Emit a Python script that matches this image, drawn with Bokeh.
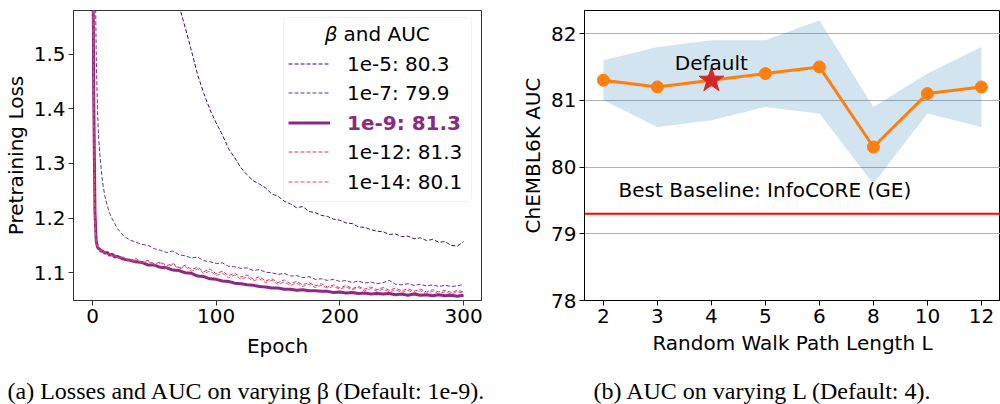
from bokeh.plotting import figure
from bokeh.models import Range1d, FixedTicker, Legend, LegendItem, Label, BoxAnnotation, Span
from bokeh.layouts import row, column
from bokeh.embed import file_html
from bokeh.resources import INLINE

# ---------------- data: (a) pretraining loss vs epoch ----------------
EPOCHS = [0, 1, 2, 3, 4, 5, 6, 7, 8, 10, 12, 14, 16, 18, 20,
          25, 30, 35, 40, 45, 50, 55, 60, 65, 70, 75, 80, 85, 90, 95, 100,
          105, 110, 115, 120, 125, 130, 135, 140, 145, 150, 155, 160, 165, 170, 175, 180,
          185, 190, 195, 200, 205, 210, 215, 220, 225, 230, 235, 240, 245, 250, 255, 260,
          265, 270, 275, 280, 285, 290, 295, 300]

LOSS_1E5 = [3.10, 2.95, 2.85, 2.76, 2.68, 2.62, 2.57, 2.52, 2.48, 2.41, 2.35, 2.30, 2.25, 2.21, 2.17,
            2.08, 2.01, 1.95, 1.90, 1.85, 1.80, 1.74, 1.685, 1.635, 1.588, 1.548, 1.506, 1.462, 1.428, 1.398, 1.374,
            1.352, 1.327, 1.310, 1.292, 1.279, 1.268, 1.262, 1.255, 1.244, 1.240, 1.231, 1.226, 1.219, 1.221, 1.212, 1.210,
            1.205, 1.203, 1.198, 1.196, 1.191, 1.190, 1.184, 1.183, 1.179, 1.176, 1.175, 1.170, 1.171, 1.166, 1.167, 1.162,
            1.164, 1.159, 1.161, 1.156, 1.157, 1.150, 1.149, 1.157]

LOSS_1E7 = [1.90, 1.85, 1.70, 1.50, 1.40, 1.345, 1.315, 1.29, 1.268, 1.240, 1.222, 1.208, 1.198, 1.190, 1.181,
            1.168, 1.160, 1.156, 1.152, 1.150, 1.144, 1.141, 1.137, 1.140, 1.133, 1.131, 1.127, 1.129, 1.122, 1.120, 1.117,
            1.118, 1.112, 1.111, 1.108, 1.109, 1.104, 1.106, 1.101, 1.100, 1.097, 1.099, 1.094, 1.095, 1.091, 1.093, 1.088,
            1.089, 1.086, 1.088, 1.084, 1.086, 1.082, 1.085, 1.081, 1.083, 1.080, 1.082, 1.086, 1.079, 1.078, 1.080, 1.077,
            1.079, 1.076, 1.078, 1.075, 1.077, 1.075, 1.076, 1.079]

LOSS_1E9 = [1.85, 1.42, 1.21, 1.158, 1.147, 1.144, 1.143, 1.139, 1.140, 1.136, 1.137, 1.132, 1.134, 1.129, 1.130,
            1.125, 1.123, 1.120, 1.119, 1.114, 1.114, 1.110, 1.109, 1.105, 1.104, 1.100, 1.099, 1.094, 1.093, 1.089, 1.088,
            1.085, 1.084, 1.081, 1.080, 1.078, 1.077, 1.075, 1.074, 1.072, 1.072, 1.070, 1.070, 1.068, 1.069, 1.067, 1.067,
            1.066, 1.066, 1.064, 1.065, 1.063, 1.064, 1.062, 1.063, 1.061, 1.062, 1.061, 1.062, 1.060, 1.061, 1.059, 1.061,
            1.059, 1.060, 1.058, 1.060, 1.058, 1.059, 1.057, 1.059]

LOSS_1E12 = [1.82, 1.40, 1.20, 1.156, 1.147, 1.145, 1.142, 1.140, 1.141, 1.137, 1.134, 1.136, 1.131, 1.134, 1.127,
             1.128, 1.122, 1.126, 1.119, 1.123, 1.116, 1.120, 1.113, 1.117, 1.109, 1.114, 1.106, 1.110, 1.102, 1.107, 1.098,
             1.103, 1.095, 1.099, 1.092, 1.096, 1.088, 1.093, 1.085, 1.089, 1.082, 1.087, 1.080, 1.084, 1.078, 1.082, 1.076,
             1.080, 1.074, 1.078, 1.072, 1.077, 1.071, 1.075, 1.070, 1.074, 1.069, 1.073, 1.068, 1.072, 1.067, 1.071, 1.066,
             1.070, 1.065, 1.069, 1.065, 1.068, 1.064, 1.068, 1.065]

LOSS_1E14 = [1.80, 1.38, 1.19, 1.154, 1.149, 1.144, 1.140, 1.142, 1.137, 1.139, 1.133, 1.135, 1.130, 1.132, 1.127,
             1.129, 1.121, 1.124, 1.118, 1.121, 1.114, 1.118, 1.110, 1.115, 1.107, 1.111, 1.103, 1.107, 1.099, 1.103, 1.095,
             1.099, 1.091, 1.096, 1.088, 1.092, 1.085, 1.089, 1.082, 1.086, 1.079, 1.083, 1.077, 1.081, 1.075, 1.079, 1.073,
             1.077, 1.072, 1.075, 1.070, 1.074, 1.069, 1.073, 1.067, 1.071, 1.066, 1.070, 1.065, 1.069, 1.064, 1.068, 1.063,
             1.067, 1.062, 1.066, 1.062, 1.065, 1.061, 1.065, 1.063]

BETA_LABELS = ["1e-5: 80.3", "1e-7: 79.9", "1e-9: 81.3", "1e-12: 81.3", "1e-14: 80.1"]
DEFAULT_BETA_INDEX = 2
LEGEND_TITLE_SYMBOL = "β"
LEGEND_TITLE_REST = "and AUC"
CAPTION_A = "(a) Losses and AUC on varying β (Default: 1e-9)."

# ---------------- data: (b) AUC vs random walk length ----------------
L_LABELS = ["2", "3", "4", "5", "6", "8", "10", "12"]
AUC_MEAN = [81.3, 81.2, 81.3, 81.4, 81.5, 80.3, 81.1, 81.2]
AUC_UPPER = [81.6, 81.8, 81.9, 81.9, 82.2, 80.9, 81.4, 81.8]
AUC_LOWER = [81.0, 80.6, 80.7, 80.9, 80.8, 79.75, 80.8, 80.6]
DEFAULT_L = "4"
BASELINE_AUC = 79.3
BASELINE_TEXT = "Best Baseline: InfoCORE (GE)"
CAPTION_B = "(b) AUC on varying L (Default: 4)."

# ---------------- styles ----------------
FONT = "DejaVu Sans"
FS = "20px"
SERIF = "Liberation Serif"
CAP_FS = "24px"
BETA_COLORS = ["#3b0f70", "#6b2d9a", "#8c2981", "#c23b78", "#e4506e"]
BETA_DASH = ["4 2", "4 2", "solid", "4 2", "4 2"]
BETA_WIDTH = [1, 1, 3, 1, 1]


def style_axes(p, color):
    for ax in (p.xaxis[0], p.yaxis[0]):
        ax.axis_line_color = color
        ax.major_tick_line_color = color
        ax.minor_tick_line_color = None
        ax.major_tick_in = 0
        ax.major_tick_out = 5
        ax.major_label_text_font = FONT
        ax.major_label_text_font_size = FS
        ax.major_label_text_color = "black"
        ax.axis_label_text_font = FONT
        ax.axis_label_text_font_size = FS
        ax.axis_label_text_font_style = "normal"
        ax.axis_label_text_color = "black"
    p.xaxis.major_label_standoff = 3
    p.xaxis.axis_label_standoff = 8
    p.yaxis.major_label_standoff = 3
    p.yaxis.axis_label_standoff = 3


# ================= figure (a) =================
p1 = figure(width=518, height=370, output_backend="svg", toolbar_location=None,
            x_range=Range1d(-15.36, 314.5), y_range=Range1d(1.0493, 1.5796),
            min_border_left=73, min_border_right=37, min_border_top=10, min_border_bottom=67)
p1.background_fill_color = "white"
p1.border_fill_color = "white"
p1.outline_line_color = "#333333"
p1.grid.visible = False
p1.xaxis.ticker = FixedTicker(ticks=[0, 100, 200, 300])
p1.yaxis.ticker = FixedTicker(ticks=[1.1, 1.2, 1.3, 1.4, 1.5])
p1.xaxis.axis_label = "Epoch"
p1.yaxis.axis_label = "Pretraining Loss"
style_axes(p1, "#333333")

series = [LOSS_1E5, LOSS_1E7, LOSS_1E9, LOSS_1E12, LOSS_1E14]
renderers = []
for ys, c, d, w in zip(series, BETA_COLORS, BETA_DASH, BETA_WIDTH):
    r = p1.line(EPOCHS, ys, line_color=c, line_width=w, line_dash=d)
    renderers.append(r)

# legend box (screen units relative to the plot frame)
p1.add_layout(BoxAnnotation(left=210, right=398, bottom=99, top=283,
                            left_units="screen", right_units="screen",
                            top_units="screen", bottom_units="screen",
                            fill_color="white", fill_alpha=0.85,
                            line_color="#cccccc", line_width=1, border_radius=4))
p1.add_layout(Label(x=264, y=267, x_units="screen", y_units="screen", text=LEGEND_TITLE_SYMBOL,
                    text_font=FONT, text_font_size=FS, text_font_style="italic",
                    text_align="right", text_baseline="middle", text_color="black"))
p1.add_layout(Label(x=270, y=267, x_units="screen", y_units="screen", text=LEGEND_TITLE_REST,
                    text_font=FONT, text_font_size=FS,
                    text_align="left", text_baseline="middle", text_color="black"))
LEG_Y = [236, 207, 177, 148, 118]
for i, (lab, r, yc) in enumerate(zip(BETA_LABELS, renderers, LEG_Y)):
    bold = i == DEFAULT_BETA_INDEX
    lg = Legend(items=[LegendItem(label=lab, renderers=[r])], location=(215, yc - 11.5),
                orientation="vertical", padding=0, margin=0, spacing=0,
                border_line_color=None, background_fill_alpha=0,
                glyph_width=42, glyph_height=23, label_height=23, label_standoff=17,
                label_text_font=FONT, label_text_font_size=FS,
                label_text_font_style="bold" if bold else "normal",
                label_text_color=BETA_COLORS[i] if bold else "black",
                label_text_baseline="middle")
    p1.add_layout(lg)

# ================= figure (b) =================
idx = list(range(len(L_LABELS)))
p2 = figure(width=482, height=370, output_backend="svg", toolbar_location=None,
            x_range=Range1d(-0.35, 7.354), y_range=Range1d(78, 82.345),
            min_border_left=66, min_border_right=0, min_border_top=10, min_border_bottom=70)
p2.background_fill_color = "white"
p2.border_fill_color = "white"
p2.outline_line_color = "black"
p2.xgrid.visible = False
p2.ygrid.grid_line_color = "#b0b0b0"
p2.ygrid.grid_line_width = 1
p2.xaxis.ticker = FixedTicker(ticks=idx)
p2.xaxis.major_label_overrides = {i: lab for i, lab in enumerate(L_LABELS)}
p2.yaxis.ticker = FixedTicker(ticks=[78, 79, 80, 81, 82])
p2.xaxis.axis_label = "Random Walk Path Length L"
p2.yaxis.axis_label = "ChEMBL6K AUC"
style_axes(p2, "black")
p2.xaxis.axis_label_standoff = 5

p2.varea(x=idx, y1=AUC_LOWER, y2=AUC_UPPER, fill_color="#1f77b4", fill_alpha=0.2)
p2.add_layout(Span(location=BASELINE_AUC, dimension="width", line_color="#ff0000", line_width=2))
p2.line(idx, AUC_MEAN, line_color="#ff7f0e", line_width=3)
p2.scatter(idx, AUC_MEAN, size=12, fill_color="#ff7f0e", line_color="#ff7f0e")
di = L_LABELS.index(DEFAULT_L)
p2.scatter([idx[di]], [AUC_MEAN[di]], marker="star", size=26,
           fill_color="#d62728", line_color="#d62728")
p2.add_layout(Label(x=idx[di], y=81.565, text="Default", text_font=FONT, text_font_size=FS,
                    text_align="center", text_baseline="middle", text_color="black"))
p2.add_layout(Label(x=0.28, y=79.65, text=BASELINE_TEXT, text_font=FONT, text_font_size=FS,
                    text_align="left", text_baseline="middle", text_color="black"))

# ================= caption strip =================
p3 = figure(width=1000, height=34, output_backend="svg", toolbar_location=None, title=None,
            x_range=Range1d(0, 1000), y_range=Range1d(0, 34),
            x_axis_type=None, y_axis_type=None, min_border=0)
p3.outline_line_color = None
p3.grid.visible = False
p3.background_fill_color = "white"
p3.border_fill_color = "white"
p3.add_layout(Label(x=7, y=14, x_units="screen", y_units="screen", text=CAPTION_A,
                    text_font=SERIF, text_font_size=CAP_FS, text_align="left",
                    text_baseline="alphabetic", text_color="black"))
p3.add_layout(Label(x=593, y=14, x_units="screen", y_units="screen", text=CAPTION_B,
                    text_font=SERIF, text_font_size=CAP_FS, text_align="left",
                    text_baseline="alphabetic", text_color="black"))

layout = column(row(p1, p2), p3)
open("out.html", "w").write(file_html(layout, INLINE))
